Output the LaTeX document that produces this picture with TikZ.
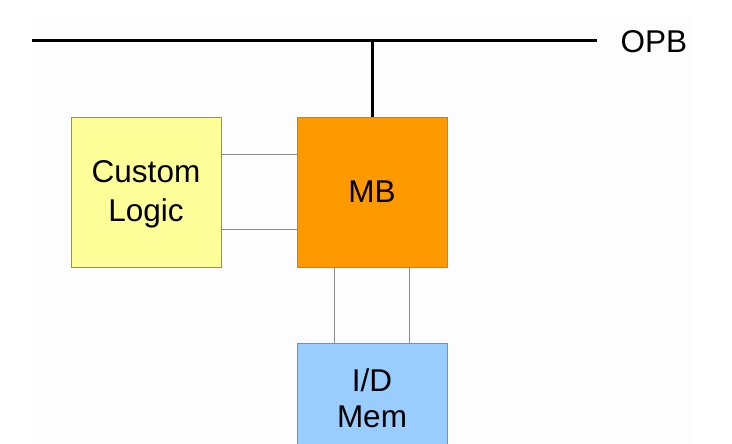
\documentclass[tikz,border=0pt]{standalone}
\usepackage{fontspec}
\setmainfont{Liberation Sans}
\usetikzlibrary{calc}
\definecolor{bgpanel}{HTML}{FDFDFD}
\definecolor{cyellow}{HTML}{FFFF99}
\definecolor{corange}{HTML}{FF9900}
\definecolor{cblue}{HTML}{99CCFF}
\definecolor{edgegray}{HTML}{8C8C8C}
\tikzset{
  blockbox/.style={draw=edgegray, line width=0.8pt, minimum width=150pt, minimum height=150pt,
    inner sep=0pt, font=\fontsize{31.5}{39}\selectfont, align=center, text=black},
  thinlink/.style={draw=edgegray, line width=0.8pt},
  buswire/.style={draw=black, line width=3pt}
}
\begin{document}
\begin{tikzpicture}[x=1pt,y=-1pt]
\useasboundingbox (0,0) rectangle (732,444);
\clip (0,0) rectangle (732,444);
\fill[white] (0,0) rectangle (732,444);
\fill[bgpanel] (31,17) rectangle (690,444);
\coordinate (busL) at (32,41);
\coordinate (busR) at (597,41);
\node[blockbox, fill=cyellow] (cl) at (146,192) {};
\node[font=\fontsize{31.5}{39}\selectfont, align=center, text=black] (cltext) at (146,194) {Custom\\Logic};
\node[blockbox, fill=corange] (mb) at (372,192) {MB};
\node[blockbox, fill=cblue, anchor=north] (mem) at (372,343) {};
\node[font=\fontsize{31.5}{39}\selectfont, text=black] (mem1) at (372,380) {I/D};
\node[font=\fontsize{31.5}{39}\selectfont, text=black] (mem2) at (372,417) {Mem};
\node[font=\fontsize{31.5}{39}\selectfont, anchor=west, text=black] (opb) at (617,42) {OPB};
\draw[buswire] (busL) -- (busR);
\draw[buswire] (mb.north) -- (mb.north |- busL);
\draw[thinlink] ($(cl.north east)!0.25!(cl.south east)$) -- ($(mb.north west)!0.25!(mb.south west)$);
\draw[thinlink] ($(cl.north east)!0.75!(cl.south east)$) -- ($(mb.north west)!0.75!(mb.south west)$);
\draw[thinlink] ($(mb.south west)!0.25!(mb.south east)$) -- ($(mem.north west)!0.25!(mem.north east)$);
\draw[thinlink] ($(mb.south west)!0.75!(mb.south east)$) -- ($(mem.north west)!0.75!(mem.north east)$);
\end{tikzpicture}
\end{document}
